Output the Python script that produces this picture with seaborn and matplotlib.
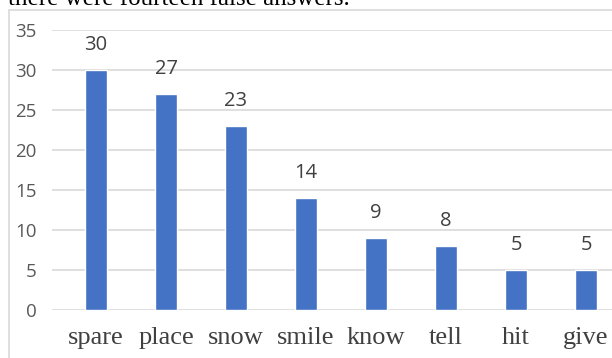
import matplotlib.pyplot as plt
import seaborn as sns
import pandas as pd
from matplotlib.patches import Rectangle

# data
words = ['spare', 'place', 'snow', 'smile', 'know', 'tell', 'hit', 'give']
counts = [30, 27, 23, 14, 9, 8, 5, 5]
yticks = [0, 5, 10, 15, 20, 25, 30, 35]

df = pd.DataFrame({'word': words, 'count': counts})

sns.set_style('white')
plt.rcParams['font.family'] = ['Open Sans', 'DejaVu Sans']

fig = plt.figure(figsize=(6.12, 3.58), dpi=100)
ax = fig.add_axes([52/612, 48/358, 560/612, 280/358])

# chart frame (cropped on the right and bottom)
fig.patches.append(Rectangle((9/612, -0.1), 1.2, (358-10)/358 + 0.1, transform=fig.transFigure,
                             fill=False, edgecolor='#d9d9d9', linewidth=1.2, zorder=0))

# caption line from the page above, cut off at the top
fig.text(8/612, (358-5)/358, 'there were fourteen false answers.', family='Liberation Serif',
         fontsize=18, color='black', va='baseline', ha='left')

sns.barplot(data=df, x='word', y='count', color='#4472c4', width=0.314, saturation=1, ax=ax, zorder=3)

for i, v in enumerate(counts):
    ax.annotate(str(v), (i, v), xytext=(0, 11), textcoords='offset points', ha='center', va='bottom',
                fontsize=14.5, color='#404040')

ax.set_ylim(0, 35)
ax.set_xlim(-44/70, 516/70)
ax.set_yticks(yticks)
ax.grid(axis='y', color='#d9d9d9', linewidth=1.2, zorder=0)
ax.set_axisbelow(True)
for s in ax.spines.values():
    s.set_visible(False)
ax.tick_params(axis='both', length=0)
ax.tick_params(axis='y', pad=11, labelsize=13.5, labelcolor='#595959')
ax.tick_params(axis='x', pad=12)
for lab in ax.get_xticklabels():
    lab.set_family('Liberation Serif')
    lab.set_fontsize(19)
    lab.set_color('#404040')
ax.set_xlabel('')
ax.set_ylabel('')

plt.savefig('out.png', dpi=100)
